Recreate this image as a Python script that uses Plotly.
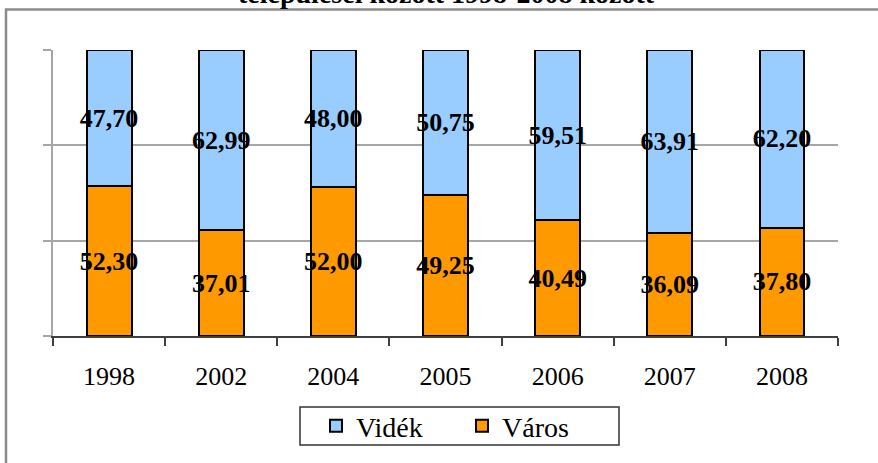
import plotly.graph_objects as go

years = ["1998", "2002", "2004", "2005", "2006", "2007", "2008"]
varos = [52.30, 37.01, 52.00, 49.25, 40.49, 36.09, 37.80]
videk = [47.70, 62.99, 48.00, 50.75, 59.51, 63.91, 62.20]
title_text = "települései között 1998-2008 között"

W, H = 878, 463
L, R, T, B = 53, 40, 50, 127
pw, ph = W - L - R, H - T - B


def px(x):
    return (x - L) / pw


def py(y):
    return (H - B - y) / ph


def fmt(v):
    return f"{v:.2f}".replace(".", ",")


SERIF = "Liberation Serif"

fig = go.Figure()
fig.add_trace(go.Bar(
    x=years, y=varos, name="Város",
    marker=dict(color="#FF9900", line=dict(color="#000000", width=2)),
    text=[fmt(v) for v in varos], textposition="inside",
    insidetextanchor="middle", textangle=0, constraintext="none",
    textfont=dict(family=SERIF, size=26, color="#000000", weight="bold"),
    width=0.4,
))
fig.add_trace(go.Bar(
    x=years, y=videk, name="Vidék",
    marker=dict(color="#99CCFF", line=dict(color="#000000", width=2)),
    text=[fmt(v) for v in videk], textposition="inside",
    insidetextanchor="middle", textangle=0, constraintext="none",
    textfont=dict(family=SERIF, size=26, color="#000000", weight="bold"),
    width=0.4,
))

fig.update_layout(
    barmode="stack",
    width=W, height=H,
    margin=dict(l=L, r=R, t=T, b=B),
    paper_bgcolor="#FFFFFF", plot_bgcolor="#FFFFFF",
    font=dict(family=SERIF, color="#000000"),
    showlegend=True,
    legend=dict(
        orientation="h", traceorder="reversed",
        x=px(316), xanchor="left", y=py(426), yanchor="middle",
        bgcolor="rgba(0,0,0,0)", borderwidth=0,
        font=dict(family=SERIF, size=28, color="#000000"),
        entrywidth=101,
    ),
    xaxis=dict(
        type="category", showgrid=False, showline=True, linecolor="#404040", linewidth=1.5,
        ticks="outside", tickson="boundaries", ticklen=8, tickcolor="#404040", tickwidth=1.5,
        tickfont=dict(family=SERIF, size=26, color="#000000"), ticklabelstandoff=16,
        range=[-0.5, 6.5],
    ),
    yaxis=dict(
        range=[0, 100], tickvals=[0, 100 / 3, 200 / 3, 100], showticklabels=False,
        showgrid=True, gridcolor="#A6A6A6", gridwidth=1.5,
        showline=True, linecolor="#A6A6A6", linewidth=1.5,
        ticks="outside", ticklen=8, tickcolor="#A6A6A6", tickwidth=1.5,
        zeroline=False,
    ),
    shapes=[
        dict(
            type="rect", xref="paper", yref="paper",
            x0=px(6), x1=px(884), y0=py(470), y1=py(9.5),
            line=dict(color="#8C8C8C", width=2.5), fillcolor="rgba(0,0,0,0)", layer="below",
        ),
        dict(
            type="rect", xref="paper", yref="paper",
            x0=px(300), x1=px(619), y0=py(445), y1=py(407),
            line=dict(color="#333333", width=1.5), fillcolor="#FFFFFF", layer="below",
        ),
    ],
    annotations=[dict(
        text=title_text, xref="paper", yref="paper", x=px(446), y=py(11),
        xanchor="center", yanchor="bottom", showarrow=False,
        font=dict(family=SERIF, size=28, color="#000000", weight="bold"),
    )],
)

fig.write_html(
    "out.html",
    config={"displayModeBar": False},
    post_script="document.body.style.margin='0';document.body.style.padding='0';",
)
